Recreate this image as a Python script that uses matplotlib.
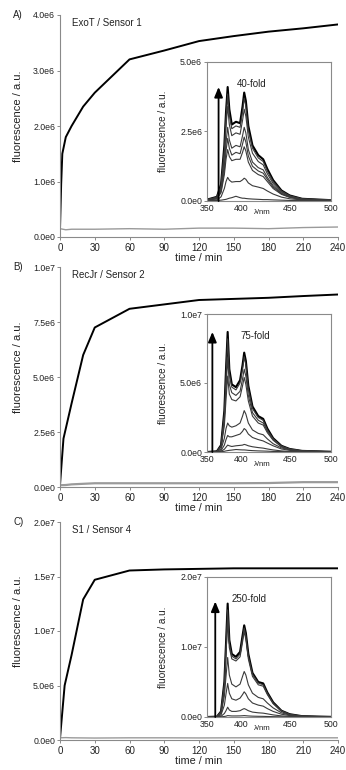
import matplotlib
matplotlib.use("Agg")
import matplotlib.pyplot as plt
import numpy as np

plt.rcParams['font.family'] = ['Liberation Sans', 'DejaVu Sans']

# ---- kinetics (main panels) ----
t_a = [0, 1, 2, 5, 10, 20, 30, 60, 90, 120, 150, 180, 210, 240]
f_a = [0.15, 0.95, 1.5, 1.8, 2.0, 2.35, 2.6, 3.2, 3.36, 3.53, 3.62, 3.7, 3.76, 3.83]
t_b = [0, 3, 10, 20, 30, 60, 90, 120, 150, 180, 210, 240]
f_b = [0.1, 2.2, 3.8, 6.0, 7.25, 8.1, 8.3, 8.5, 8.55, 8.6, 8.68, 8.75]
t_c = [0, 4, 10, 20, 30, 60, 90, 120, 150, 180, 210, 240]
f_c = [0.15, 5.0, 7.8, 12.9, 14.7, 15.55, 15.65, 15.7, 15.75, 15.75, 15.75, 15.75]

t_ctrl = [0, 5, 10, 30, 60, 90, 120, 150, 180, 210, 240]
ctrl_a = [0.15, 0.13, 0.14, 0.14, 0.15, 0.14, 0.16, 0.16, 0.15, 0.17, 0.18]
ctrl_b = [0.08, 0.09, 0.12, 0.17, 0.17, 0.17, 0.17, 0.17, 0.18, 0.22, 0.22]
ctrl_c = [0.2, 0.22, 0.2, 0.18, 0.2, 0.2, 0.19, 0.2, 0.2, 0.2, 0.2]

# ---- emission spectra (insets), units 1e6 ----
wl = [350, 362, 367, 371, 373, 375, 377, 380, 385, 390, 393, 395, 397, 400,
      405, 412, 418, 423, 430, 440, 450, 465, 500]

spec_a = [
    [0.05, 0.15, 0.6, 2.0, 3.2, 4.1, 3.3, 2.75, 2.85, 2.8, 3.4, 3.9, 3.6, 2.7, 2.0, 1.65, 1.5, 1.15, 0.75, 0.38, 0.2, 0.08, 0.03],
    [0.05, 0.14, 0.55, 1.85, 3.0, 3.85, 3.1, 2.6, 2.7, 2.65, 3.2, 3.7, 3.4, 2.55, 1.9, 1.55, 1.42, 1.08, 0.7, 0.36, 0.19, 0.08, 0.03],
    [0.04, 0.12, 0.5, 1.65, 2.7, 3.4, 2.75, 2.35, 2.45, 2.4, 2.9, 3.3, 3.05, 2.3, 1.72, 1.42, 1.3, 0.98, 0.63, 0.32, 0.17, 0.07, 0.03],
    [0.04, 0.1, 0.4, 1.3, 2.1, 2.65, 2.2, 1.9, 2.0, 1.95, 2.35, 2.65, 2.45, 1.85, 1.4, 1.2, 1.12, 0.85, 0.55, 0.28, 0.15, 0.06, 0.03],
    [0.03, 0.09, 0.35, 1.1, 1.8, 2.25, 1.9, 1.65, 1.75, 1.7, 2.05, 2.3, 2.12, 1.62, 1.25, 1.08, 1.0, 0.78, 0.5, 0.26, 0.14, 0.06, 0.03],
    [0.03, 0.08, 0.3, 0.95, 1.5, 1.85, 1.6, 1.45, 1.5, 1.5, 1.75, 1.95, 1.8, 1.4, 1.1, 0.95, 0.88, 0.7, 0.45, 0.24, 0.13, 0.05, 0.03],
    [0.02, 0.04, 0.15, 0.45, 0.7, 0.85, 0.75, 0.68, 0.7, 0.7, 0.76, 0.82, 0.78, 0.65, 0.55, 0.5, 0.45, 0.36, 0.25, 0.14, 0.08, 0.04, 0.02],
    [0.01, 0.02, 0.03, 0.05, 0.06, 0.08, 0.1, 0.12, 0.17, 0.12, 0.1, 0.1, 0.09, 0.08, 0.07, 0.06, 0.05, 0.05, 0.04, 0.03, 0.02, 0.02, 0.01],
]
spec_b = [
    [0.0, 0.05, 0.5, 3.0, 6.0, 8.7, 6.0, 4.9, 4.7, 5.2, 6.3, 7.2, 6.6, 4.8, 3.3, 2.6, 2.4, 1.7, 1.0, 0.45, 0.22, 0.08, 0.02],
    [0.0, 0.05, 0.45, 2.8, 5.6, 8.2, 5.7, 4.7, 4.5, 5.0, 6.0, 6.9, 6.3, 4.6, 3.15, 2.5, 2.3, 1.6, 0.95, 0.43, 0.21, 0.08, 0.02],
    [0.0, 0.04, 0.4, 2.3, 4.6, 6.8, 4.9, 4.3, 4.1, 4.4, 5.3, 6.0, 5.5, 4.1, 2.85, 2.3, 2.1, 1.5, 0.9, 0.4, 0.2, 0.07, 0.02],
    [0.0, 0.03, 0.35, 1.9, 3.8, 5.5, 4.2, 3.8, 3.7, 4.0, 4.8, 5.4, 4.9, 3.7, 2.6, 2.1, 1.95, 1.4, 0.85, 0.38, 0.19, 0.07, 0.02],
    [0.0, 0.02, 0.2, 1.0, 1.7, 2.1, 1.9, 1.8, 1.9, 2.1, 2.6, 3.0, 2.75, 2.1, 1.6, 1.35, 1.25, 0.95, 0.6, 0.3, 0.15, 0.06, 0.02],
    [0.0, 0.01, 0.1, 0.5, 0.9, 1.2, 1.1, 1.1, 1.2, 1.3, 1.5, 1.7, 1.6, 1.3, 1.05, 0.9, 0.8, 0.65, 0.45, 0.22, 0.12, 0.05, 0.02],
    [0.0, 0.01, 0.05, 0.2, 0.35, 0.5, 0.45, 0.4, 0.45, 0.48, 0.5, 0.55, 0.52, 0.45, 0.38, 0.32, 0.28, 0.22, 0.15, 0.08, 0.04, 0.02, 0.01],
    [0.0, 0.0, 0.02, 0.05, 0.08, 0.1, 0.12, 0.14, 0.18, 0.16, 0.15, 0.15, 0.14, 0.12, 0.1, 0.08, 0.07, 0.06, 0.04, 0.03, 0.02, 0.01, 0.0],
]
spec_c = [
    [0.0, 0.05, 0.8, 5.0, 10.5, 16.2, 11.0, 9.0, 8.6, 9.3, 11.6, 13.1, 12.0, 9.0, 6.3, 5.0, 4.8, 3.5, 2.1, 0.9, 0.4, 0.12, 0.02],
    [0.0, 0.05, 0.75, 4.7, 9.8, 15.3, 10.5, 8.7, 8.3, 9.0, 11.2, 12.7, 11.6, 8.7, 6.1, 4.85, 4.6, 3.4, 2.0, 0.88, 0.38, 0.12, 0.02],
    [0.0, 0.04, 0.7, 4.3, 9.0, 14.0, 9.9, 8.3, 8.0, 8.6, 10.7, 12.2, 11.1, 8.3, 5.8, 4.6, 4.4, 3.2, 1.9, 0.84, 0.36, 0.11, 0.02],
    [0.0, 0.03, 0.5, 3.0, 5.8, 8.5, 6.0, 4.7, 4.3, 4.7, 5.8, 6.5, 6.0, 4.6, 3.4, 2.8, 2.6, 2.0, 1.3, 0.6, 0.28, 0.1, 0.02],
    [0.0, 0.02, 0.3, 1.7, 3.3, 4.8, 3.4, 2.6, 2.4, 2.7, 3.2, 3.6, 3.3, 2.6, 2.0, 1.7, 1.55, 1.2, 0.8, 0.4, 0.2, 0.07, 0.02],
    [0.0, 0.01, 0.1, 0.5, 0.9, 1.4, 1.0, 0.8, 0.8, 0.9, 1.1, 1.2, 1.1, 0.9, 0.7, 0.6, 0.55, 0.45, 0.3, 0.16, 0.08, 0.03, 0.01],
    [0.0, 0.0, 0.02, 0.08, 0.12, 0.2, 0.18, 0.15, 0.15, 0.16, 0.18, 0.2, 0.18, 0.15, 0.12, 0.1, 0.09, 0.07, 0.05, 0.03, 0.02, 0.01, 0.0],
]

panels = [
    dict(letter="A)", title="ExoT / Sensor 1", t=t_a, f=f_a, ctrl=ctrl_a,
         ymax=4.0, yticks=[0, 1, 2, 3, 4],
         ylabels=["0.0e0", "1.0e6", "2.0e6", "3.0e6", "4.0e6"],
         spec=spec_a, smax=5.0, sticks=[0, 2.5, 5.0],
         slabels=["0.0e0", "2.5e6", "5.0e6"], fold="40-fold", fold_x=0.24,
         arrow_x=364, arrow_top=4.1, ctrl_lw=1.0),
    dict(letter="B)", title="RecJr / Sensor 2", t=t_b, f=f_b, ctrl=ctrl_b,
         ymax=10.0, yticks=[0, 2.5, 5, 7.5, 10],
         ylabels=["0.0e0", "2.5e6", "5.0e6", "7.5e6", "1.0e7"],
         spec=spec_b, smax=10.0, sticks=[0, 5.0, 10.0],
         slabels=["0.0e0", "5.0e6", "1.0e7"], fold="75-fold", fold_x=0.27,
         arrow_x=356.5, arrow_top=8.7, ctrl_lw=1.6),
    dict(letter="C)", title="S1 / Sensor 4", t=t_c, f=f_c, ctrl=ctrl_c,
         ymax=20.0, yticks=[0, 5, 10, 15, 20],
         ylabels=["0.0e0", "5.0e6", "1.0e7", "1.5e7", "2.0e7"],
         spec=spec_c, smax=20.0, sticks=[0, 10.0, 20.0],
         slabels=["0.0e0", "1.0e7", "2.0e7"], fold="250-fold", fold_x=0.2,
         arrow_x=360, arrow_top=16.5, ctrl_lw=1.0),
]

wl_ticks = [350, 400, 450, 500]
wl_ticklabels = ["350", "400", "450", "500"]

# pixel boxes (top, bottom) for main axes and insets
main_box = [(15, 237), (267, 487), (522, 740)]
inset_box = [(62, 201), (314, 452), (577, 717)]

W, H = 346, 770
fig = plt.figure(figsize=(W / 100, H / 100), dpi=100)
spine_col = "#8a8a8a"

for p, (mt, mb), (it, ib) in zip(panels, main_box, inset_box):
    ax = fig.add_axes([60 / W, 1 - mb / H, 278 / W, (mb - mt) / H])
    ax.plot(t_ctrl, p["ctrl"], color="#9a9a9a", lw=p["ctrl_lw"])
    ax.plot(p["t"], p["f"], color="black", lw=1.4)
    ax.set_xlim(0, 240)
    ax.set_ylim(0, p["ymax"])
    ax.set_xticks([0, 30, 60, 90, 120, 150, 180, 210, 240])
    ax.set_yticks(p["yticks"])
    ax.set_yticklabels(p["ylabels"])
    for s in ["top", "right"]:
        ax.spines[s].set_visible(False)
    for s in ["left", "bottom"]:
        ax.spines[s].set_color(spine_col)
        ax.spines[s].set_linewidth(0.8)
    ax.tick_params(axis="x", labelsize=7, length=2.5, width=0.7, pad=1.5,
                   color=spine_col, labelcolor="#222222")
    ax.tick_params(axis="y", labelsize=6.3, length=2.5, width=0.7, pad=1,
                   color=spine_col, labelcolor="#222222")
    ax.set_xlabel("time / min", fontsize=7.8, color="#222222")
    ax.xaxis.set_label_coords(0.5, -21 / (mb - mt))
    ax.xaxis.label.set_va("center")
    ax.set_ylabel("fluorescence / a.u.", fontsize=8, color="#222222")
    ax.yaxis.set_label_coords(-37 / 278, 0.545)
    ax.text(12 / 278, 0.963, p["title"], transform=ax.transAxes,
            fontsize=7, va="center", ha="left", color="#222222")
    fig.text(13 / W, 1 - mt / H, p["letter"], fontsize=7, va="center",
             ha="left", color="#222222")

    ins = fig.add_axes([207 / W, 1 - ib / H, 124 / W, (ib - it) / H])
    ins.set_facecolor("white")
    for k, curve in enumerate(p["spec"]):
        ins.plot(wl, curve, color="black" if k == 0 else "#3a3a3a",
                 lw=1.5 if k == 0 else 0.8)
    ins.set_xlim(350, 500)
    ins.set_ylim(0, p["smax"])
    ins.set_xticks(wl_ticks)
    ins.set_xticklabels(wl_ticklabels)
    ins.get_xticklabels()[1].set_ha("right")
    ins.set_yticks(p["sticks"])
    ins.set_yticklabels(p["slabels"])
    for s in ins.spines.values():
        s.set_color(spine_col)
        s.set_linewidth(0.8)
    ins.tick_params(axis="x", labelsize=6.3, length=0, pad=2,
                    labelcolor="#222222")
    ins.tick_params(axis="y", labelsize=6.3, length=2.5, width=0.7, pad=1,
                    color=spine_col, labelcolor="#222222")
    ins.set_ylabel("fluorescence / a.u.", fontsize=7.2, color="#222222")
    ins.yaxis.set_label_coords(-39 / 124, 0.5)
    ins.text(0.445, -12 / (ib - it), "λ/nm", transform=ins.transAxes,
             fontsize=5.6, va="center", ha="center", color="#222222")
    ins.text(p["fold_x"], 0.84, p["fold"], transform=ins.transAxes,
             fontsize=7, va="center", ha="left", color="#222222")
    ins.annotate("", xy=(p["arrow_x"], p["arrow_top"]),
                 xytext=(p["arrow_x"], 0),
                 arrowprops=dict(arrowstyle="-|>,head_width=0.25,head_length=0.6",
                                 color="black", lw=1.3, shrinkA=0, shrinkB=0))

fig.savefig("out.png", dpi=100)
